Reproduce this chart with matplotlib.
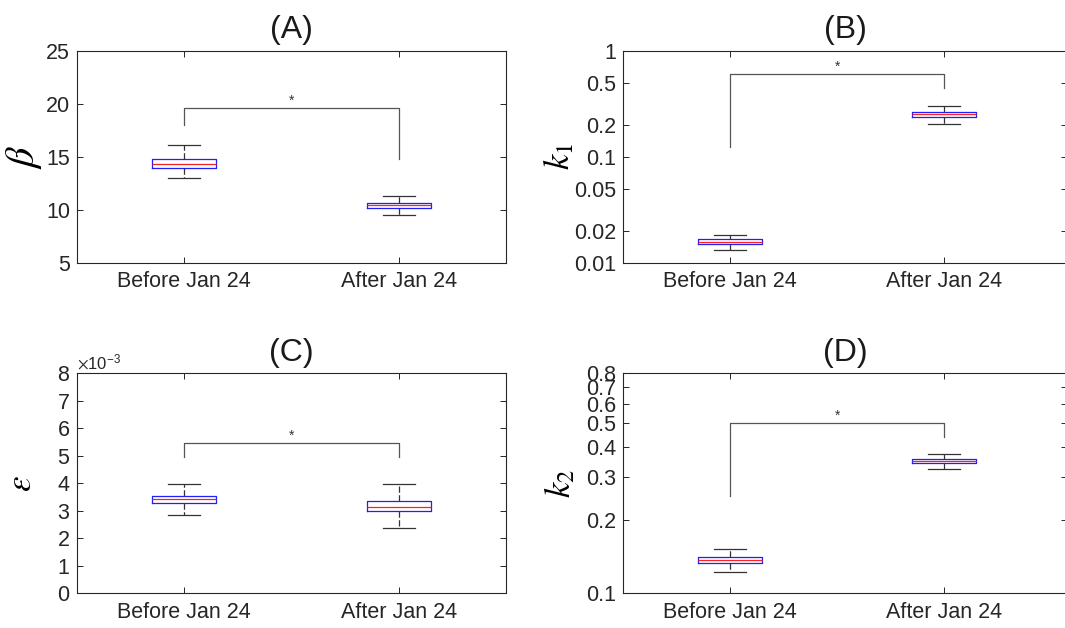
import matplotlib
matplotlib.use("Agg")
import matplotlib.pyplot as plt
from matplotlib.ticker import FixedLocator, FixedFormatter, NullLocator, ScalarFormatter, MultipleLocator

plt.rcParams['font.family'] = ['Liberation Sans', 'DejaVu Sans']
plt.rcParams['mathtext.fontset'] = 'stix'

groups = ["Before Jan 24", "After Jan 24"]

# per group: lower whisker, q1, median, q3, upper whisker
beta_stats = [[13.0, 13.96, 14.31, 14.84, 16.1], [9.56, 10.19, 10.44, 10.69, 11.32]]
k1_stats = [[0.0132, 0.0150, 0.0158, 0.0167, 0.0185], [0.203, 0.240, 0.2545, 0.268, 0.303]]
eps_stats = [[2.84e-3, 3.27e-3, 3.42e-3, 3.55e-3, 3.99e-3], [2.39e-3, 2.98e-3, 3.15e-3, 3.37e-3, 3.96e-3]]
k2_stats = [[0.122, 0.1333, 0.1371, 0.1406, 0.1522], [0.325, 0.343, 0.3498, 0.356, 0.3736]]

# significance bracket: bar level, left leg end, right leg end
beta_sig = [19.65, 18.0, 14.84]
k1_sig = [0.61, 0.125, 0.445]
eps_sig = [5.48e-3, 4.97e-3, 4.97e-3]
k2_sig = [0.501, 0.250, 0.439]

k1_ticks = [0.01, 0.02, 0.05, 0.1, 0.2, 0.5, 1]
k1_labels = ["0.01", "0.02", "0.05", "0.1", "0.2", "0.5", "1"]
k2_ticks = [0.1, 0.2, 0.3, 0.4, 0.5, 0.6, 0.7, 0.8]
k2_labels = ["0.1", "0.2", "0.3", "0.4", "0.5", "0.6", "0.7", "0.8"]

fig = plt.figure(figsize=(10.65, 6.28), dpi=100)
axA = fig.add_axes([0.0723, 0.581, 0.4028, 0.338])
axB = fig.add_axes([0.585, 0.581, 0.417, 0.338])
axC = fig.add_axes([0.0723, 0.0553, 0.4028, 0.3503])
axD = fig.add_axes([0.585, 0.0553, 0.417, 0.3503])

edge = '#262626'


def draw_panel(ax, stats, sig, title, ylabel, xright, label_x, label_size):
    bxp_stats = []
    for s in stats:
        bxp_stats.append({'whislo': s[0], 'q1': s[1], 'med': s[2], 'q3': s[3],
                          'whishi': s[4], 'fliers': []})
    ax.bxp(bxp_stats, positions=[1, 2], widths=0.3, capwidths=0.15, showfliers=False,
           boxprops=dict(color='#1f1fff', linewidth=0.9),
           medianprops=dict(color='#ff2020', linewidth=0.9),
           whiskerprops=dict(color='#333333', linewidth=0.9, linestyle=(0, (5, 2))),
           capprops=dict(color='#333333', linewidth=0.9),
           manage_ticks=False)
    # significance bracket
    ax.plot([1, 1, 2, 2], [sig[1], sig[0], sig[0], sig[2]], color='#555555', linewidth=0.9)
    ax.annotate('*', xy=(1.5, sig[0]), xytext=(0, 2), textcoords='offset points',
                ha='center', va='baseline', fontsize=10, color='#333333')
    ax.set_xlim(0.5, xright)
    ax.set_xticks([1, 2])
    ax.set_xticklabels(groups)
    ax.set_title(title, fontsize=23, pad=9, color='#1a1a1a')
    ax.set_ylabel(ylabel, fontsize=label_size)
    ax.yaxis.set_label_coords(label_x, 0.5)
    ax.tick_params(direction='in', length=4, width=0.7, top=True, right=True,
                   labelsize=15.5, colors=edge, pad=5)
    ax.tick_params(axis='x', pad=6)
    for sp in ax.spines.values():
        sp.set_color(edge)
        sp.set_linewidth(0.8)


draw_panel(axA, beta_stats, beta_sig, "(A)", r'$\beta$', 2.5, -0.078, 29)
axA.set_ylim(5, 25)
axA.yaxis.set_major_locator(MultipleLocator(5))

draw_panel(axB, k1_stats, k1_sig, "(B)", r'$k_1$', 2.575, -0.105, 25)
axB.set_yscale('log')
axB.set_ylim(0.01, 1)
axB.yaxis.set_major_locator(FixedLocator(k1_ticks))
axB.yaxis.set_major_formatter(FixedFormatter(k1_labels))
axB.yaxis.set_minor_locator(NullLocator())

draw_panel(axC, eps_stats, eps_sig, "(C)", r'$\varepsilon$', 2.5, -0.092, 25)
axC.set_ylim(0, 0.008)
axC.yaxis.set_major_locator(MultipleLocator(0.001))
fmt = ScalarFormatter(useMathText=True)
fmt.set_powerlimits((-2, 2))
axC.yaxis.set_major_formatter(fmt)
axC.yaxis.get_offset_text().set_fontsize(12)
axC.yaxis.get_offset_text().set_color(edge)

draw_panel(axD, k2_stats, k2_sig, "(D)", r'$k_2$', 2.575, -0.104, 25)
axD.set_yscale('log')
axD.set_ylim(0.1, 0.8)
axD.yaxis.set_major_locator(FixedLocator(k2_ticks))
axD.yaxis.set_major_formatter(FixedFormatter(k2_labels))
axD.yaxis.set_minor_locator(NullLocator())

fig.savefig('out.png', dpi=100)
